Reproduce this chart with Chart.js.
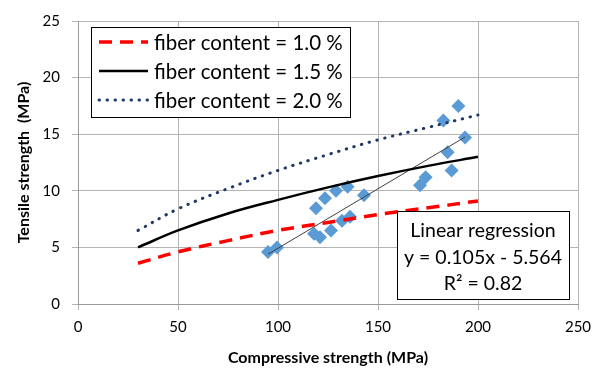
<!DOCTYPE html>
<html>
<head>
<meta charset="utf-8">
<script src="https://cdn.jsdelivr.net/npm/chart.js@4.4.0/dist/chart.umd.min.js"></script>
<style>
  html, body { margin: 0; padding: 0; background: #fff; }
  #wrap { width: 602px; height: 371px; }
</style>
</head>
<body>
<div id="wrap"><canvas id="chart" width="602" height="371"></canvas></div>
<script>
// measured points (compressive, tensile), MPa
const measX = [95, 99.5, 118, 121, 119, 123.5, 126.5, 129, 132, 134.8, 136, 143, 171, 173.8, 182.7, 184.8, 186.8, 190.2, 193.5];
const measY = [4.6, 5.0, 6.2, 5.9, 8.45, 9.35, 6.5, 10.0, 7.35, 10.35, 7.7, 9.6, 10.5, 11.2, 16.2, 13.4, 11.8, 17.5, 14.7];

// model curves
const curveX = [30, 50, 75, 100, 125, 150, 175, 200];
const fiber10 = [3.6, 4.6, 5.6, 6.5, 7.2, 7.9, 8.5, 9.1];
const fiber15 = [5.0, 6.5, 8.0, 9.2, 10.3, 11.3, 12.2, 13.0];
const fiber20 = [6.5, 8.4, 10.2, 11.8, 13.2, 14.5, 15.6, 16.7];

// regression line end points
const regX = [95, 193.5];
const regY = [4.4, 14.75];

const regText = ['Linear regression', 'y = 0.105x - 5.564', 'R\u00b2 = 0.82'];
const xTicks = [0, 50, 100, 150, 200, 250];
const yTicks = [0, 5, 10, 15, 20, 25];

const FONT = 'Lato, "Open Sans", sans-serif';
const zip = (xs, ys) => xs.map((x, i) => ({ x: x, y: ys[i] }));

// legend + regression box drawn inside the plot
const boxesPlugin = {
  id: 'boxes',
  afterDatasetsDraw(chart) {
    const ctx = chart.ctx;
    ctx.save();
    // legend
    const lx = 91, ly = 27, lw = 259, lh = 90;
    ctx.fillStyle = '#fff';
    ctx.fillRect(lx, ly, lw, lh);
    ctx.strokeStyle = '#000';
    ctx.lineWidth = 1;
    ctx.strokeRect(lx + 0.5, ly + 0.5, lw, lh);
    const items = chart.data.datasets.filter(d => d.inLegend);
    items.forEach((d, i) => {
      const yy = 42 + i * 29;
      ctx.beginPath();
      ctx.strokeStyle = d.borderColor;
      ctx.lineWidth = d.borderWidth;
      ctx.lineCap = d.borderCapStyle || 'butt';
      ctx.setLineDash(d.borderDash || []);
      ctx.moveTo(99, yy);
      ctx.lineTo(148, yy);
      ctx.stroke();
      ctx.setLineDash([]);
      ctx.fillStyle = '#000';
      ctx.font = '20.5px ' + FONT;
      ctx.textBaseline = 'middle';
      ctx.textAlign = 'left';
      ctx.fillText(d.label, 154, yy + 1);
    });
    // regression box
    const rx = 397, ry = 211, rw = 172, rh = 88;
    ctx.fillStyle = '#fff';
    ctx.fillRect(rx, ry, rw, rh);
    ctx.strokeStyle = '#000';
    ctx.lineWidth = 1;
    ctx.strokeRect(rx + 0.5, ry + 0.5, rw, rh);
    ctx.fillStyle = '#000';
    ctx.font = '19.5px ' + FONT;
    ctx.textAlign = 'center';
    ctx.textBaseline = 'middle';
    regText.forEach((t, i) => ctx.fillText(t, rx + rw / 2, 231 + i * 26.5));
    ctx.restore();
  }
};

new Chart(document.getElementById('chart'), {
  type: 'scatter',
  data: {
    datasets: [
      {
        label: 'measured',
        data: zip(measX, measY),
        pointStyle: 'rectRot',
        pointRadius: 7,
        backgroundColor: '#5b9bd5',
        borderColor: '#5b9bd5',
        borderWidth: 0,
        showLine: false,
        order: 5
      },
      {
        label: 'fiber content = 1.0 %',
        inLegend: true,
        data: zip(curveX, fiber10),
        showLine: true,
        pointRadius: 0,
        borderColor: '#ff0000',
        borderWidth: 3.5,
        borderDash: [13, 8],
        tension: 0.4,
        order: 1
      },
      {
        label: 'fiber content = 1.5 %',
        inLegend: true,
        data: zip(curveX, fiber15),
        showLine: true,
        pointRadius: 0,
        borderColor: '#000000',
        borderWidth: 2.5,
        tension: 0.4,
        order: 1
      },
      {
        label: 'fiber content = 2.0 %',
        inLegend: true,
        data: zip(curveX, fiber20),
        showLine: true,
        pointRadius: 0,
        borderColor: '#1f3864',
        borderWidth: 3,
        borderDash: [0.5, 7.5],
        borderCapStyle: 'round',
        tension: 0.4,
        order: 1
      },
      {
        label: 'regression',
        data: zip(regX, regY),
        showLine: true,
        pointRadius: 0,
        borderColor: '#404040',
        borderWidth: 1,
        order: 2
      }
    ]
  },
  options: {
    responsive: false,
    animation: false,
    layout: { padding: { left: 0, right: 24, top: 15, bottom: 0 } },
    plugins: { legend: { display: false }, tooltip: { enabled: false } },
    scales: {
      x: {
        type: 'linear',
        min: 0, max: 250,
        afterBuildTicks: s => { s.ticks = xTicks.map(v => ({ value: v })); },
        afterFit: s => { s.height = 67; },
        grid: { color: '#b4b4b4', lineWidth: 1, tickLength: 6, drawTicks: true },
        border: { color: '#999999' },
        ticks: { color: '#000', font: { family: FONT, size: 15 }, padding: 8 },
        title: { display: true, text: 'Compressive strength (MPa)', color: '#000', font: { family: FONT, size: 16, weight: 'bold' }, padding: { top: 4 } }
      },
      y: {
        type: 'linear',
        min: 0, max: 25,
        afterBuildTicks: s => { s.ticks = yTicks.map(v => ({ value: v })); },
        afterFit: s => { s.width = 78; },
        grid: { color: '#b4b4b4', lineWidth: 1, tickLength: 6 },
        border: { color: '#999999' },
        ticks: { color: '#000', font: { family: FONT, size: 15 }, padding: 12 },
        title: { display: true, text: 'Tensile strength  (MPa)', color: '#000', font: { family: FONT, size: 16, weight: 'bold' }, padding: { top: 14 } }
      }
    }
  },
  plugins: [boxesPlugin]
});
</script>
</body>
</html>
